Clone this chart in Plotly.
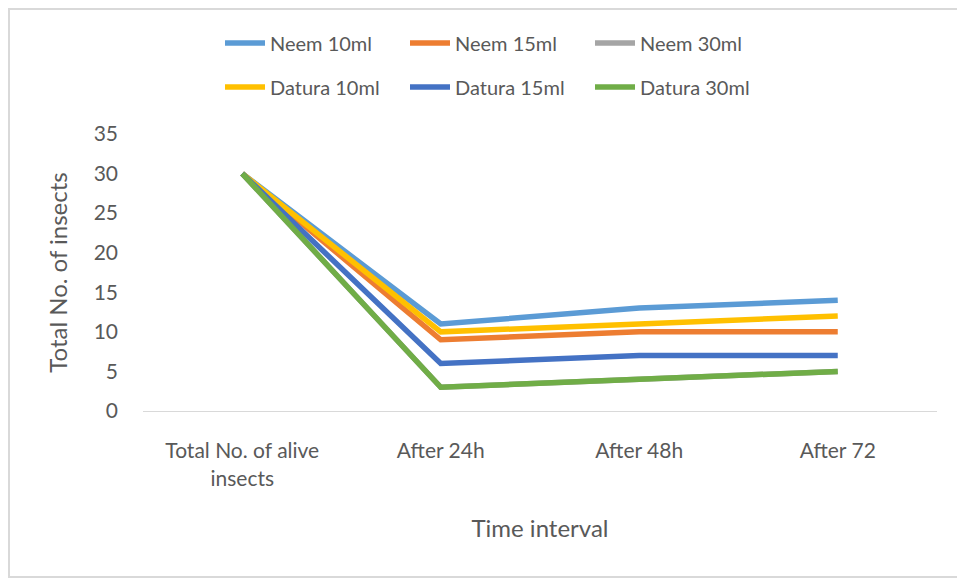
import plotly.graph_objects as go

categories = ["Total No. of alive<br>insects", "After 24h", "After 48h", "After 72"]
neem_10 = [30, 11, 13, 14]
neem_15 = [30, 9, 10, 10]
neem_30 = [30, 3, 4, 5]
datura_10 = [30, 10, 11, 12]
datura_15 = [30, 6, 7, 7]
datura_30 = [30, 3, 4, 5]

series = [
    ("Neem 10ml", neem_10, "#5B9BD5", "legend"),
    ("Neem 15ml", neem_15, "#ED7D31", "legend"),
    ("Neem 30ml", neem_30, "#A5A5A5", "legend"),
    ("Datura 10ml", datura_10, "#FFC000", "legend2"),
    ("Datura 15ml", datura_15, "#4472C4", "legend2"),
    ("Datura 30ml", datura_30, "#70AD47", "legend2"),
]

FONT = "Lato, 'Open Sans', sans-serif"
TXT = "#595959"

fig = go.Figure()
for name, vals, col, lg in series:
    fig.add_trace(go.Scatter(x=categories, y=vals, name=name, mode="lines",
                             line=dict(color=col, width=5.5), legend=lg))

# page offset of 8px (body margin) compensated
OFF = 8
W, H = 965 - OFF, 579 - OFF
L, T = 143 - OFF, 134 - OFF
R = W - (937 - OFF)
B = H - (411 - OFF)
pw, ph = W - L - R, H - T - B

def px_x(p):
    return (p - OFF - L) / pw

def px_y(p):
    return (H - B - (p - OFF)) / ph

legend_common = dict(orientation="h", xanchor="left", yanchor="middle",
                     font=dict(family=FONT, size=20, color=TXT),
                     entrywidth=130, entrywidthmode="pixels",
                     bgcolor="rgba(0,0,0,0)", itemwidth=40)

fig.update_layout(
    width=W, height=H,
    margin=dict(l=L, r=R, t=T, b=B),
    paper_bgcolor="white", plot_bgcolor="white",
    font=dict(family=FONT, size=21, color=TXT),
    showlegend=True,
    legend=dict(x=px_x(220), y=px_y(43), **legend_common),
    legend2=dict(x=px_x(220), y=px_y(87), **legend_common),
    xaxis=dict(showgrid=False, showline=True, linecolor="#D9D9D9", linewidth=1,
               ticks="", tickfont=dict(family=FONT, size=21, color=TXT),
               ticklabelstandoff=21,
               title=dict(text="Time interval", font=dict(family=FONT, size=24, color=TXT), standoff=31),
               range=[-0.5, 3.5], zeroline=False),
    yaxis=dict(range=[0, 35], dtick=5, showgrid=False, zeroline=False, showline=False,
               ticks="", tickfont=dict(family=FONT, size=21, color=TXT),
               ticklabelstandoff=24,
               title=dict(text="Total No. of insects", font=dict(family=FONT, size=24, color=TXT), standoff=19)),
    shapes=[dict(type="rect", xref="paper", yref="paper",
                 x0=px_x(9), x1=px_x(962), y0=px_y(577), y1=px_y(9),
                 line=dict(color="#D9D9D9", width=2), fillcolor="rgba(0,0,0,0)", layer="below")],
)

fig.write_html("out.html")
